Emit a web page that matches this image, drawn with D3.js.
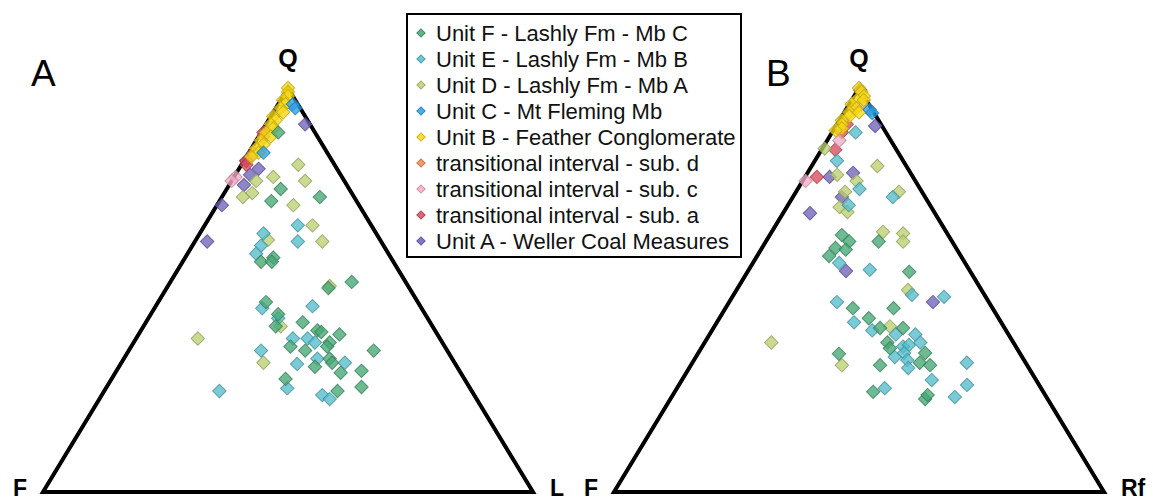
<!DOCTYPE html>
<html>
<head>
<meta charset="utf-8">
<script src="https://cdn.jsdelivr.net/npm/d3@7"></script>
<style>
    body { margin: 0; background: #fff; }
    svg { display: block; font-family: "Liberation Sans", Arial, sans-serif; }
</style>
</head>
<body>
<div id="chart"></div>
<script>
// legend order (top to bottom)
var units = ["Unit F - Lashly Fm - Mb C", "Unit E - Lashly Fm - Mb B", "Unit D - Lashly Fm - Mb A",
    "Unit C - Mt Fleming Mb", "Unit B - Feather Conglomerate", "transitional interval - sub. d",
    "transitional interval - sub. c", "transitional interval - sub. a", "Unit A - Weller Coal Measures"];
var unitColors = ["#45a673", "#55bccb", "#bccf72", "#2d9fe3", "#f6d916", "#ef8a52", "#f2aec6", "#d84d5d", "#6f63b8"];

// panel A : [Q, L] in percent (F = 100 - Q - L)
var qflUnitF = [[89,3.5],[75,11],[72,10.6],[73,20],[58,18],[57,16],[57,18.2],[52,37],[50.5,33],[47,22],[44,26],[41,27],
    [42,32],[40,36],[39.6,37],[39,41],[36,32.5],[37,40],[36,40],[35,36],[35,50],[33,42],[31,40],[32,43],[30,50],
    [29.5,46],[28,35.5],[26,52],[25,47.6]];
var qflUnitE = [[64,13],[66,19],[62,21],[61,14],[59,14],[45.5,22],[46,32],[43,26.5],[38,32],[38,35],[37,37],[35,27],
    [33,39.5],[31.7,36],[32,45.6],[25.7,37],[25,23.5],[24,45],[23,47]];
var qflUnitD = [[81,11.6],[77,15],[78,8],[77,5],[74,5.7],[73,4.3],[71,15.6],[66,22],[62,26],[62.4,14.7],[51,33],
    [41,28],[38,12.6],[32,29]];
var qflUnitC = [[96,3],[95,4],[84,3]];
var qflUnitB = [[100,0],[99,0.5],[98,1],[97,0.5],[96,1.5],[95,1],[94,2],[93,0.5],[92,1.5],[91,1],[90,2],[89,1],
    [88,2.5],[87,1],[86,2],[85,1],[84,2],[83,1]];
var qflSubD = [[88,1],[84,1]];
var qflSubC = [[78,0.3],[77,0]];
var qflSubA = [[89,0.5],[82,0.5],[81,1]];
var qflUnitA = [[91,8],[82,0.5],[80,4],[78.5,3],[76,3],[71,1],[62,2.5]];

// panel B : [Q, Rf] in percent (F = 100 - Q - Rf)
var qfrUnitF = [[62,23],[63.6,14.7],[62,17],[60.4,15],[60,17.3],[58.4,14.7],[54.5,33],[45.5,26],[45.5,34.3],[43,30.5],
    [40.6,34],[40.6,38.7],[37,37.3],[35.6,38.5],[34.4,46.3],[32,46.4],[31.4,48.8],[34.2,28.8],[31.4,38.6],
    [24.8,40.5],[23,52],[24,52]];
var qfrUnitE = [[89,4.8],[82,4.5],[75,12.6],[71,12.4],[73,20.4],[56.7,17.6],[55,24.7],[48.8,36.4],[48.3,43.2],[47,22],
    [42,28],[40,32.7],[39,42],[39,38],[37,44],[36,41],[36.4,42],[33.4,40.6],[34.4,42],[32.7,43.5],[30.7,44.7],
    [27.7,51],[32,56],[25.7,42.4],[23.5,57.8],[26.5,58.8]];
var qfrUnitD = [[85,0.5],[78.5,6.3],[77,11],[80.7,13.4],[74.3,10],[70.5,10.8],[69.3,13],[74.3,21],[64.4,22.7],[64,27],
    [62,28],[50,35],[41,35.8],[37,13.6],[31.4,30.8]];
var qfrUnitC = [[94.6,4.9],[93.8,5.8]];
var qfrUnitB = [[100,0],[99,1],[98,2],[97,1],[96,0.5],[95,2],[94,1],[93,1.5],[92,0.5],[91,1],[90,1.5],[89.5,0.5],
    [94,3],[97,2.5]];
var qfrSubD = [[95,1.5]];
var qfrSubC = [[96,2.5],[87,2.5],[77,0.6]];
var qfrSubA = [[91,2],[89,2],[84.7,2.8],[78,2.4]];
var qfrUnitA = [[99.5,0.5],[90.6,8],[78,5],[79,9.3],[73,10],[69,5.5],[54.7,20],[47,41.6]];

var panelLetters = ["A", "B"];
var vertexLabels = [["Q", "F", "L"], ["Q", "F", "Rf"]];

(function(){
    var W = 1153, H = 502;
    var svg = d3.select("#chart").append("svg").attr("width", W).attr("height", H);

    var panels = [
        { x0: 43, x1: 533, letterX: 31, sets: [qflUnitF, qflUnitE, qflUnitD, qflUnitC, qflUnitB, qflSubD, qflSubC, qflSubA, qflUnitA] },
        { x0: 614, x1: 1104, letterX: 766, sets: [qfrUnitF, qfrUnitE, qfrUnitD, qfrUnitC, qfrUnitB, qfrSubD, qfrSubC, qfrSubA, qfrUnitA] }
    ];
    var diamond = d3.symbol().type(d3.symbolSquare).size(90);

    panels.forEach(function(p, pi){
        // Q -> height, (right component + Q/2) -> horizontal position
        var x = d3.scaleLinear().domain([0, 100]).range([p.x0, p.x1]);
        var y = d3.scaleLinear().domain([0, 100]).range([492, 88]);
        var px = function(d){ return x(d[1] + d[0] / 2); };
        var py = function(d){ return y(d[0]); };

        var g = svg.append("g");
        // F, right vertex, Q as [Q, right]
        var tri = [[0, 0], [0, 100], [100, 0]].map(function(c){ return [px(c), py(c)]; });
        g.append("path")
            .attr("d", "M" + tri.join("L") + "Z")
            .attr("fill", "none")
            .attr("stroke", "#000")
            .attr("stroke-width", 4)
            .attr("stroke-linejoin", "miter");

        // points, drawn bottom of the legend first
        for (var k = p.sets.length - 1; k >= 0; k--) {
            var col = unitColors[k];
            g.selectAll(null)
                .data(p.sets[k])
                .enter()
                .append("path")
                .attr("d", diamond)
                .attr("transform", function(d){ return "translate(" + px(d) + "," + py(d) + ") rotate(45)"; })
                .attr("fill", col)
                .attr("fill-opacity", 0.78)
                .attr("stroke", d3.color(col).darker(0.7))
                .attr("stroke-opacity", 0.8)
                .attr("stroke-width", 1);
        }

        // labels
        g.append("text").attr("x", p.letterX).attr("y", 86)
            .attr("font-size", 37).text(panelLetters[pi]);
        g.append("text").attr("x", x(50)).attr("y", 67).attr("text-anchor", "middle")
            .attr("font-size", 25).attr("font-weight", "bold").text(vertexLabels[pi][0]);
        g.append("text").attr("x", x(0) - 16).attr("y", 496).attr("text-anchor", "end")
            .attr("font-size", 23).attr("font-weight", "bold").text(vertexLabels[pi][1]);
        g.append("text").attr("x", x(100) + 17).attr("y", 496)
            .attr("font-size", 23).attr("font-weight", "bold").text(vertexLabels[pi][2]);
    });

    // legend
    var lg = svg.append("g");
    lg.append("rect").attr("x", 407).attr("y", 14).attr("width", 334).attr("height", 243)
        .attr("fill", "#fff").attr("stroke", "#000").attr("stroke-width", 2);
    var rowY = d3.scaleLinear().domain([0, 8]).range([33, 241]);
    var small = d3.symbol().type(d3.symbolSquare).size(34);
    units.forEach(function(u, i){
        lg.append("path").attr("d", small)
            .attr("transform", "translate(421," + rowY(i) + ") rotate(45)")
            .attr("fill", unitColors[i]).attr("fill-opacity", 0.85)
            .attr("stroke", d3.color(unitColors[i]).darker(0.5)).attr("stroke-width", 1);
        lg.append("text").attr("x", 436).attr("y", rowY(i) + 8)
            .attr("font-size", 22).attr("fill", "#111").text(u);
    });
})();
</script>
</body>
</html>
